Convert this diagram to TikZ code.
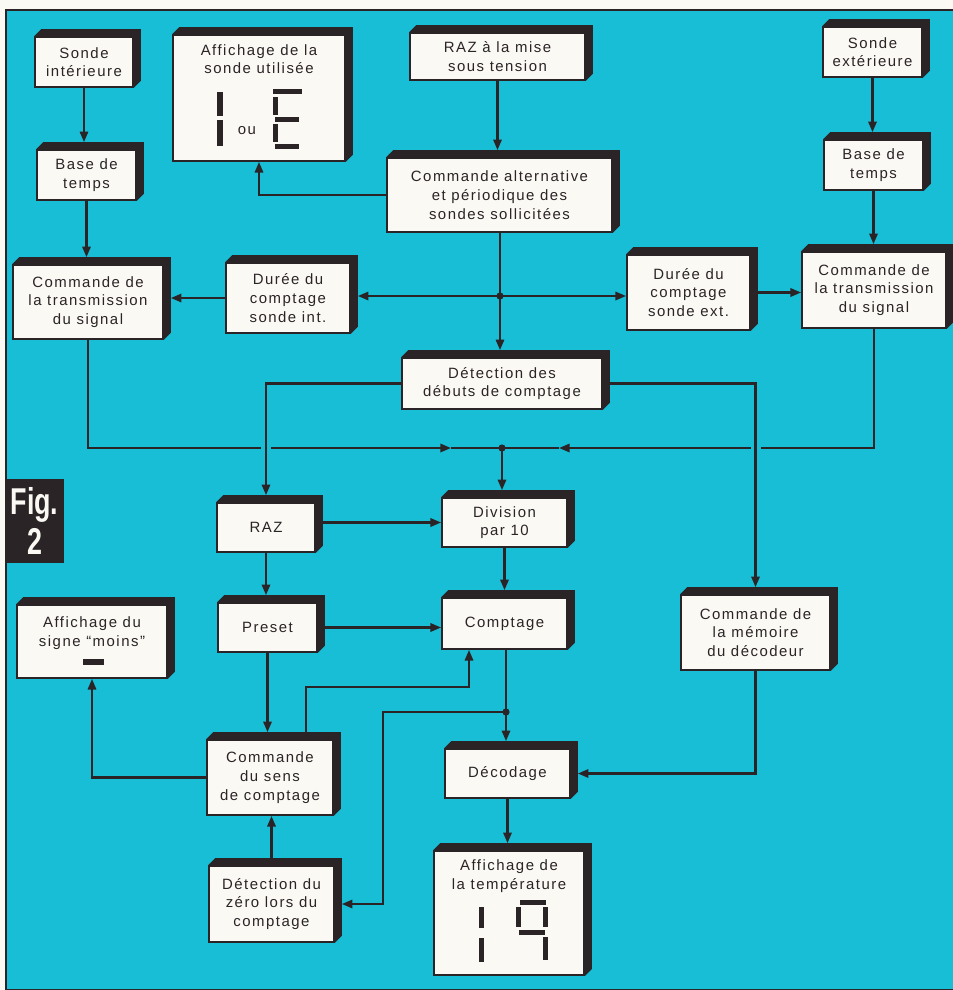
\documentclass[tikz,border=0pt]{standalone}
\usepackage{fontspec}
\setmainfont{Liberation Sans}
\newfontfamily\lblfont{Liberation Sans}[LetterSpace=10]
\newfontfamily\figfont{Liberation Sans}[FakeStretch=0.72]
\usetikzlibrary{arrows.meta,calc}
\definecolor{bg}{RGB}{24,190,214}
\definecolor{paper}{RGB}{251,249,244}
\definecolor{ink}{RGB}{42,36,38}
\newcommand\dd{7}
\newcommand\blk[6]{%
  \node[blk, minimum width={(#4-#2)*0.75pt}, minimum height={(#5-#3)*0.75pt}] (#1) at ({(#2+#4)/2},{(#3+#5)/2}) {#6};
  \fill[ink] (#1.north west) -- ++(\dd,-\dd) -- ($(#1.north east)+(\dd,-\dd)$) -- ($(#1.south east)+(\dd,-\dd)$) -- (#1.south east) -- (#1.north east) -- cycle;
}
\newcommand\seg[4]{\fill[ink] (#1,#2) rectangle (#3,#4);}
\tikzset{
  blk/.style={draw=ink, line width=1.3pt, fill=paper, inner sep=0pt, align=center,
    font=\lblfont\fontsize{11.2}{14}\selectfont, text=ink},
  txt/.style={inner sep=0pt, align=center, font=\lblfont\fontsize{11.2}{14}\selectfont, text=ink},
  wire/.style={draw=ink, line width=1.7pt},
  arr/.style={wire, -{Triangle[length=8pt,width=6.2pt]}},
  tin/.style={shorten >=5.2pt},
  gapfill/.style={fill=bg},
}
\begin{document}
\begin{tikzpicture}[x=0.75pt,y=-0.75pt]
\useasboundingbox (0,0) rectangle (953,990);
\fill[paper] (0,0) rectangle (953,990);
\fill[bg] (6,10) rectangle (953,990);
\draw[ink, line width=1pt] (6,989.5) -- (6,10) -- (953,10);
\draw[ink, line width=0.8pt] (6,989.5) -- (953,989.5);

% boxes
\blk{sondeI}{35}{37}{133}{87}{Sonde\\intérieure}
\blk{affS}{173}{35}{345}{161}{}
\blk{razM}{410}{33}{585}{80}{RAZ à la mise\\sous tension}
\blk{sondeE}{823}{27}{922}{77}{Sonde\\extérieure}
\blk{baseI}{37}{150}{136}{200}{Base de\\temps}
\blk{baseE}{824}{140}{923}{190}{Base de\\temps}
\blk{cmdAlt}{387}{158}{612}{232}{Commande alternative\\et périodique des\\sondes sollicitées}
\blk{transI}{13}{265}{163}{339}{Commande de\\la transmission\\du signal}
\blk{dureeI}{226}{263}{350}{333}{Durée du\\comptage\\sonde int.}
\blk{dureeE}{627}{255}{750}{330}{Durée du\\comptage\\sonde ext.}
\blk{transE}{802}{252}{946}{328}{Commande de\\la transmission\\du signal}
\blk{detDeb}{402}{358}{602}{409}{Détection des\\débuts de comptage}
\blk{raz}{217}{503}{315}{552}{RAZ}
\blk{div}{442}{498}{567}{547}{Division\\par 10}
\blk{preset}{218}{603}{317}{652}{Preset}
\blk{compt}{442}{598}{567}{649}{Comptage}
\blk{affMoins}{17}{605}{167}{678}{}
\blk{memo}{681}{595}{830}{670}{Commande de\\la mémoire\\du décodeur}
\blk{sens}{207}{740}{333}{815}{Commande\\du sens\\de comptage}
\blk{decod}{445}{749}{570}{798}{Décodage}
\blk{zero}{209}{866}{334}{942}{Détection du\\zéro lors du\\comptage}
\blk{affT}{434}{851}{584}{975}{}

% texts and digits of display boxes
\node[txt] (affSt) at (259,59) {Affichage de la\\sonde utilisée};
\seg{217}{92}{223}{116}\seg{217}{120}{223}{146}
\node[txt] (affSou) at (247,131) {ou};
\seg{273}{89}{302}{94}\seg{273}{97}{278}{115}\seg{275}{117}{299}{122}
\seg{273}{124}{278}{142}\seg{275}{144}{299}{149}
\node[txt] (affMoinst) at (92,633) {Affichage du\\signe “moins”};
\seg{83}{659}{104}{665}
\node[txt] (affTt) at (509,876) {Affichage de\\la température};
\seg{479}{907}{484}{928}\seg{479}{938}{484}{962}
\seg{520}{900}{546}{905}\seg{516}{907}{521}{927}\seg{543}{907}{548}{927}
\seg{519}{930}{545}{935}\seg{543}{937}{548}{960}

% Fig. 2 label
\node[fill=ink, text=paper, inner sep=0pt, minimum width={59*0.75pt}, minimum height={84*0.75pt},
  align=center, font=\figfont\bfseries\fontsize{28}{30}\selectfont] (fig) at (34.5,521) {Fig.\\2};

% coordinates
\coordinate (j1) at (500,296);
\coordinate (j2) at (502,448);
\coordinate (j3) at (506,712);
\coordinate (m1) at (451,448);
\coordinate (m2) at (559,448);
\coordinate (k1) at (306,687);
\coordinate (k2) at (469,687);
\coordinate (k3) at (383,712);

% connectors
\draw[arr,tin] (sondeI.south) -- (sondeI.south |- baseI.north);
\draw[arr,tin] (baseI.south) -- (baseI.south |- transI.north);
\draw[arr,tin] (razM.south) -- (razM.south |- cmdAlt.north);
\draw[arr] (cmdAlt.west) -| (affS.south);
\draw[wire] (j1 |- cmdAlt.south) -- (j1);
\draw[arr,tin] (j1) -- (j1 |- detDeb.north);
\draw[arr,tin] (j1) -- (j1 -| dureeI.east);
\draw[arr] (j1) -- (j1 -| dureeE.west);
\draw[arr,tin] (dureeI.west) -- (dureeI.west -| transI.east);
\draw[arr] (dureeE.east) -- (dureeE.east -| transE.west);
\draw[arr,tin] (sondeE.south) -- (sondeE.south |- baseE.north);
\draw[arr,tin] (baseE.south) -- (baseE.south |- transE.north);

\draw[arr] (transI.south) |- (m1);
\draw[wire] (m1) -- (j2);
\draw[arr] (transE.south) |- (m2);
\draw[wire] (m2) -- (j2);
\coordinate (g1) at (raz.north |- m1);
\coordinate (g2) at (memo.north |- m2);
\fill[gapfill] ($(g1)+(-5,-5)$) rectangle ($(g1)+(5,5)$);
\fill[gapfill] ($(g2)+(-5,-5)$) rectangle ($(g2)+(5,5)$);
\draw[arr,tin] (detDeb.west) -| (raz.north);
\draw[arr,tin] (detDeb.east) -| (memo.north);
\draw[arr,tin] (j2) -- (j2 |- div.north);

\draw[arr] (div.west -| raz.east) -- (div.west);
\draw[arr,tin] (raz.south) -- (raz.south |- preset.north);
\draw[arr,tin] (div.south) -- (div.south |- compt.north);
\draw[arr] (preset.east) -- (preset.east -| compt.west);
\draw[arr,tin] (preset.south) -- (preset.south |- sens.north);
\draw[arr] (k1 |- sens.north) -- (k1) -- (k2) -- (k2 |- compt.south);
\draw[wire] (j3 |- compt.south) -- (j3);
\draw[arr,tin] (j3) -- (j3 |- decod.north);
\draw[arr,tin] (j3) -- (k3) -- (k3 |- zero.east) -- (zero.east);
\draw[arr] (zero.north) -- (zero.north |- sens.south);
\draw[arr] (sens.west) -| (affMoins.south);
\draw[arr,tin] (memo.south) |- (decod.east);
\draw[arr,tin] (decod.south) -- (decod.south |- affT.north);

% junction dots
\fill[ink] (j1) circle (2.7pt);
\fill[ink] (j2) circle (2.7pt);
\fill[ink] (j3) circle (2.7pt);
\end{tikzpicture}
\end{document}
